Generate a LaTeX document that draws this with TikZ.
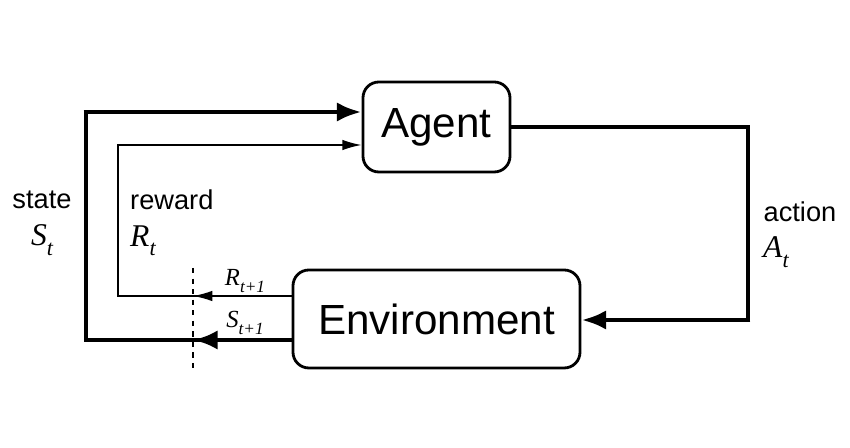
\documentclass[tikz,border=0pt]{standalone}
\usepackage{fontspec}
\setmainfont{Liberation Sans}
\newfontfamily\symfont{Liberation Serif}
\usetikzlibrary{arrows.meta}

\newcommand{\rlsym}[2]{{\symfont\itshape #1\raisebox{-0.3em}{\scalebox{0.7}{#2}}}}

\tikzset{
  box/.style = {draw, line width=1.6pt, rounded corners=9pt, inner sep=0pt},
  thickline/.style = {line width=2.8pt, -{Latex[length=14pt,width=11pt]}},
  thinline/.style = {line width=0.9pt, -{Latex[length=11pt,width=6pt]}},
  word/.style = {font=\fontsize{15.5}{18}\selectfont},
  sym/.style = {font=\fontsize{18}{21}\selectfont},
  small sym/.style = {font=\fontsize{14}{16}\selectfont}
}

\begin{document}
\begin{tikzpicture}[x=0.02cm, y=-0.02cm]
    \useasboundingbox (0, 0) rectangle (850, 448);
    % boxes
    \node [box, minimum width=147*0.02cm, minimum height=90*0.02cm,
      font=\fontsize{24}{28}\selectfont] (agent) at (436.5, 127) {Agent};
    \node [box, minimum width=287*0.02cm, minimum height=98*0.02cm,
      font=\fontsize{24}{28}\selectfont] (env) at (436.5, 319) {Environment};
    % corners
    \coordinate (sA) at (86, 340);
    \coordinate (sB) at (86, 112);
    \coordinate (rA) at (118, 296);
    \coordinate (rB) at (118, 145);
    \coordinate (aA) at (748, 127);
    \coordinate (aB) at (748, 320);
    \coordinate (cut) at (193, 0);
    % loops
    \draw [line width=2.8pt, line join=miter] (env.west |- sA) -- (sA) -- (sB)
      -- ([yshift=-0.5pt]sB);
    \draw [thickline] ([xshift=-1.4pt]sB) -- (agent.west |- sB);
    \draw [line width=0.9pt] (env.west |- rA) -- (rA) -- (rB);
    \draw [thinline] ([xshift=-0.45pt]rB) -- (agent.west |- rB);
    \draw [line width=2.8pt] (agent.east |- aA) -- (aA) -- (aB);
    \draw [thickline] ([xshift=1.4pt]aB) -- (env.east |- aB);
    % next step arrows
    \draw [thinline] (env.west |- rA) -- (cut |- rA);
    \draw [thickline] (env.west |- sA) -- (cut |- sA);
    \draw [dashed, line width=0.6pt] (193, 268) -- (193, 370);
    % labels
    \node [word] (state) at (42, 200) {state};
    \node [sym] (st) at (42, 240) {\rlsym{S}{t}};
    \node [word, anchor=west] (reward) at (124, 200) {reward};
    \node [sym, anchor=west] (rt) at (124, 241) {\rlsym{R}{t}};
    \node [word] (action) at (800, 212) {action};
    \node [sym, anchor=west] (at) at (757, 252) {\rlsym{A}{t}};
    \node [small sym] (rnext) at (245, 281) {\rlsym{R}{t+1}};
    \node [small sym] (snext) at (245, 323) {\rlsym{S}{t+1}};
\end{tikzpicture}
\end{document}
